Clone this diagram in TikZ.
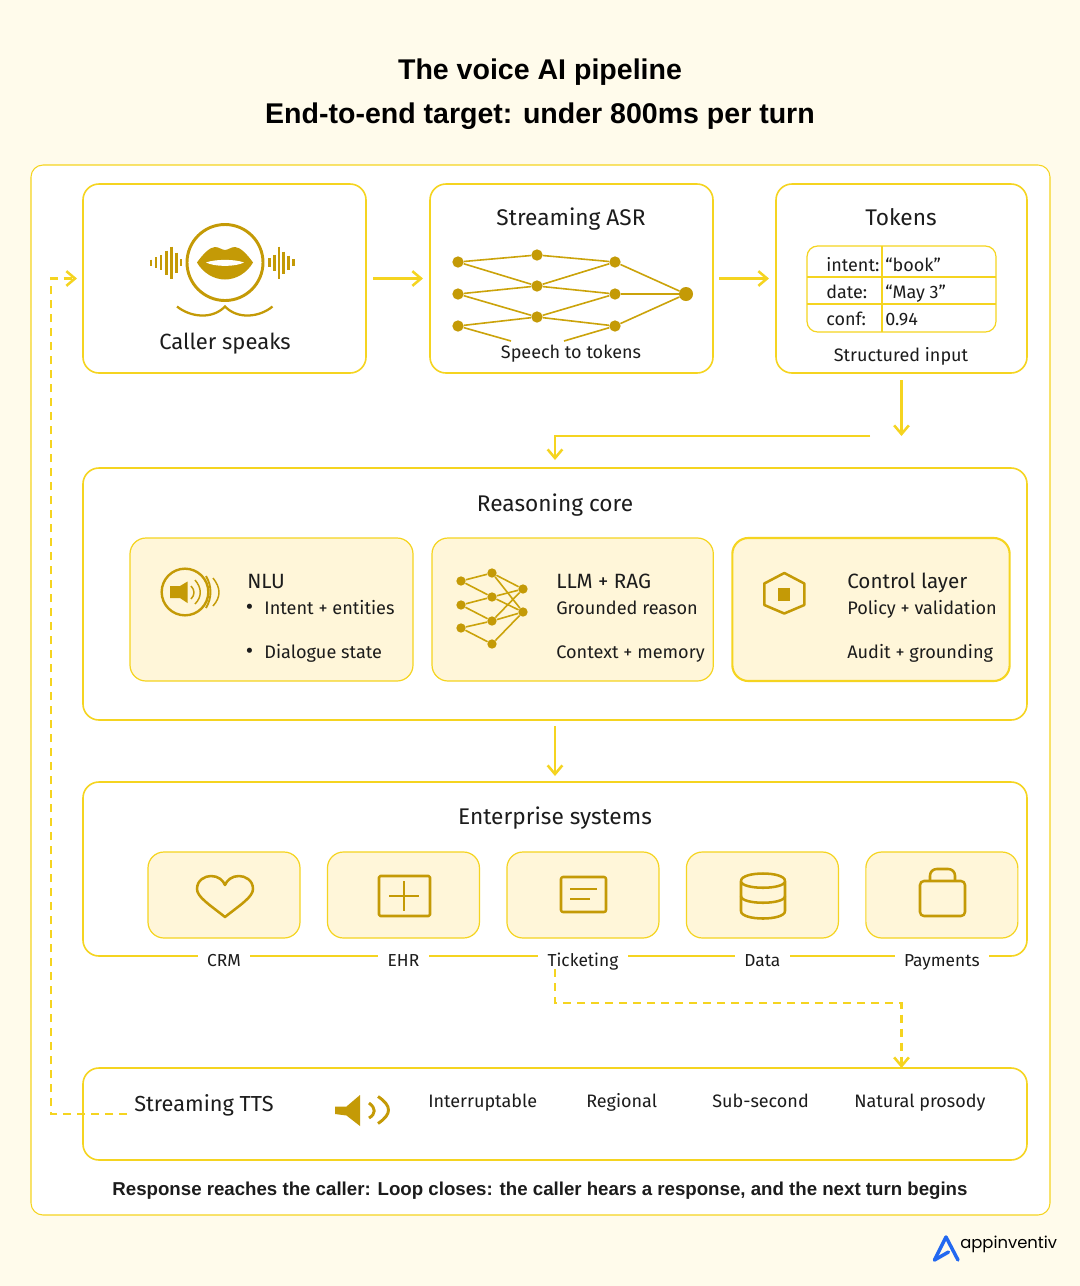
\documentclass[tikz,border=0pt]{standalone}
\usepackage{fontspec}
\usepackage{xcolor}
\usetikzlibrary{arrows.meta, positioning, calc}
\setmainfont{Fira Sans}
\newfontfamily\headfont{Liberation Sans}
\newfontfamily\logofont{Poppins}
\definecolor{mycream}{RGB}{255, 251, 235}
\definecolor{myyellow}{RGB}{245, 212, 32}
\definecolor{mygold}{RGB}{196, 154, 6}
\definecolor{mytile}{RGB}{255, 246, 217}
\definecolor{myink}{RGB}{28, 28, 28}
\definecolor{myblue}{RGB}{34, 104, 240}

\begin{document}
\begin{tikzpicture}[
    x=0.75pt, y=-0.75pt,
    box/.style={rectangle, rounded corners=12pt, draw=myyellow, line width=1.2pt, fill=white, outer sep=0pt},
    tile/.style={box, fill=mytile, line width=0.9pt},
    wide/.style={box, minimum width=708pt},
    card/.style={box, minimum width=212.25pt, minimum height=141.75pt},
    mini/.style={tile, minimum width=114pt, minimum height=64.5pt},
    panel/.style={tile, minimum height=107.25pt},
    head/.style={text=myink, font=\fontsize{17}{20}\selectfont, anchor=mid, yshift=-3pt},
    txt/.style={text=myink, font=\fontsize{13.6}{16}\selectfont, anchor=mid west, inner sep=0pt, yshift=-3pt},
    sub/.style={text=myink, font=\fontsize{13.5}{16}\selectfont, anchor=mid, inner sep=0pt, yshift=-3pt},
    arrow/.style={myyellow, line width=1.9pt, -{Straight Barb[length=6.5pt, width=11pt, line width=1.9pt]}},
    dasharrow/.style={arrow, line width=1.6pt, dash pattern=on 6pt off 4.5pt},
    dot/.style={circle, fill=mygold, draw=none, inner sep=0pt, minimum size=8.5pt},
    smalldot/.style={dot, minimum size=7pt},
    link/.style={draw=mygold!85!myyellow, line width=1.2pt},
    icon/.style={draw=mygold, line width=1.9pt, line join=round}
]
\useasboundingbox (0,0) rectangle (1080,1286);
\fill[mycream] (0,0) rectangle (1080,1286);

% Title
\node[font=\headfont\bfseries\fontsize{21.4}{25}\selectfont, text=black, anchor=mid, yshift=-4.5pt] (title) at (540,70) {The voice AI pipeline};
\node[font=\headfont\bfseries\fontsize{21.4}{25}\selectfont, text=black, anchor=mid, yshift=-4.5pt] (subtitle) at (540,114) {End-to-end target: under 800ms per turn};

% Outer frame
\node[box, line width=0.8pt, rounded corners=9pt, minimum width=764.25pt, minimum height=787.5pt] (frame) at (540.5,690) {};

% Top row
\node[card] (caller) at (224.5,278.5) {};
\node[card, right=48pt of caller] (asr) {};
\node[card, right=47.25pt of asr, minimum width=188.25pt] (tokens) {};

% Main rows
\node[wide, minimum height=189pt] (core) at (555,594) {};
\node[wide, minimum height=130.5pt, below=46.5pt of core] (ent) {};
\node[wide, minimum height=69pt, below=84pt of ent] (tts) {};

% Caller
\node[circle, draw=mygold, line width=2.2pt, minimum size=57pt, inner sep=0pt] (mouth) at (225,262.5) {};
\fill[mygold] (197,262.5) .. controls (203,254) and (210,247) .. (215,247) .. controls (219,247) and (222,250) .. (225,250) .. controls (228,250) and (231,247) .. (235,247) .. controls (240,247) and (247,254) .. (253,262.5) .. controls (247,273) and (236,279.5) .. (225,279.5) .. controls (214,279.5) and (203,273) .. (197,262.5) -- cycle;
\fill[white] (206,262.5) .. controls (215,259) and (235,259) .. (244,262.5) .. controls (235,267) and (215,267) .. (206,262.5) -- cycle;
\foreach \x/\h in {151/3, 156/5.5, 161/7.5, 166.5/12, 171.5/16, 176.5/10, 181/3.5, 269.5/4.5, 274.5/8, 279/16, 283.5/11, 288.5/7, 293.5/3.5}
    \draw[mygold, line width=1.6pt] (\x,262.5-\h) -- (\x,262.5+\h);
\draw[mygold, line width=1.7pt] (177,306.5) .. controls (190,317) and (212,320) .. (225,306.5) .. controls (238,320) and (260,317) .. (272.5,306.5);
\node[head, font=\fontsize{16.5}{20}\selectfont] (callertxt) at (225,342) {Caller speaks};

% Streaming ASR
\foreach \name/\x/\y in {la/458/262, lb/458/294, lc/458/326, ma/537/255, mb/537/286, mc/537/317, ra/615/262, rb/615/294, rc/615/326}
    \node[dot] (\name) at (\x,\y) {};
\node[dot, minimum size=10.5pt] (asrout) at (686,294) {};
\coordinate (freeleft) at (511,341);
\coordinate (freeright) at (564,341);
\foreach \a/\b in {la/ma, la/mb, lb/mb, lb/mc, lc/mc, lc/freeleft, ma/ra, mb/ra, mb/rb, mc/rb, mc/rc, rc/freeright, ra/asrout, rb/asrout, rc/asrout}
    \draw[link] (\a) -- (\b);
\node[head] (asrtxt) at (571,218) {Streaming ASR};
\node[sub] (asrsub) at (571,351) {Speech to tokens};

% Tokens
\node[head] (tokentxt) at (901,218) {Tokens};
\node[box, line width=0.9pt, rounded corners=8pt, minimum width=141.75pt, minimum height=64.5pt] (grid) at (901.5,289) {};
\coordinate (rowa) at (0,277);
\coordinate (rowb) at (0,304);
\coordinate (cola) at (882,0);
\draw[myyellow, line width=0.9pt] (grid.west |- rowa) -- (grid.east |- rowa);
\draw[myyellow, line width=0.9pt] (grid.west |- rowb) -- (grid.east |- rowb);
\draw[myyellow, line width=0.9pt] (cola |- grid.north) -- (cola |- grid.south);
\foreach \name/\y/\key/\val in {ka/264/intent:/{“book”}, kb/291/date:/{“May 3”}, kc/318/conf:/0.94} {
    \node[sub, anchor=mid west] (\name) at (826,\y) {\key};
    \node[sub, anchor=mid west] (\name v) at (885,\y) {\val};
}
\node[sub] (tokensub) at (901,354) {Structured input};

% Reasoning core
\node[head] (coretxt) at (555,504) {Reasoning core};
\node[panel, minimum width=212.25pt] (nlu) at (271.5,609.5) {};
\node[panel, minimum width=211pt, right=14.25pt of nlu] (llm) {};
\node[panel, minimum width=208pt, line width=1.6pt, right=14.25pt of llm] (ctrl) {};

\node[circle, draw=mygold, line width=1.8pt, minimum size=35pt, inner sep=0pt] (nluring) at (185,592) {};
\fill[mygold] (170,586) -- (180,586) -- (187.5,581.5) -- (187.5,603) -- (180,598) -- (170,598) -- cycle;
\draw[icon, line width=1.1pt] (191,586) .. controls (195,590) and (195,595) .. (191,599);
\draw[icon, line width=1.1pt] (195,580) .. controls (202,588) and (202,597) .. (195,604);
\draw[icon, line width=1.4pt] (206,576) .. controls (212,586) and (212,598) .. (206,608);
\draw[icon, line width=1.1pt] (213,578) .. controls (221,588) and (221,597) .. (213,606);
\node[txt, font=\fontsize{15.5}{18}\selectfont] (nlutxt) at (247,581) {NLU};
\node[txt] (nlua) at (245.5,607) {\makebox[14pt][l]{\fontsize{17}{17}\selectfont •}Intent + entities};
\node[txt] (nlub) at (245.5,651) {\makebox[14pt][l]{\fontsize{17}{17}\selectfont •}Dialogue state};

\foreach \name/\x/\y in {pa/461/581, pb/461/605, pc/461/628, qa/492/573, qb/492/597, qc/492/621, qd/492/644, sa/523/589, sb/523/612}
    \node[smalldot] (\name) at (\x,\y) {};
\foreach \a/\b in {pa/qa, pa/qb, pb/qb, pb/qc, pc/qc, pc/qd, qa/sa, qa/sb, qb/sa, qb/sb, qc/sa, qc/sb, qd/sb}
    \draw[link] (\a) -- (\b);
\node[txt, font=\fontsize{15.5}{18}\selectfont] (llmtxt) at (556,581) {LLM + RAG};
\node[txt] (llma) at (556,607) {Grounded reason};
\node[txt] (llmb) at (556,651) {Context + memory};

\draw[icon] (784.3,573) -- (804.3,583.5) -- (804.3,605) -- (784.3,613.5) -- (764.3,605) -- (764.3,583.5) -- cycle;
\fill[mygold] (777.7,588.3) rectangle (790.3,601);
\node[txt, font=\fontsize{15.5}{18}\selectfont] (ctrltxt) at (847,581) {Control layer};
\node[txt] (ctrla) at (847,607) {Policy + validation};
\node[txt] (ctrlb) at (847,651) {Audit + grounding};

% Enterprise systems
\node[head] (enttxt) at (555,817) {Enterprise systems};
\node[mini] (crm) at (224,895) {};
\foreach \name/\prev in {ehr/crm, tkt/ehr, dat/tkt, pay/dat}
    \node[mini, right=20.6pt of \prev] (\name) {};
\foreach \name/\label in {crm/CRM, ehr/EHR, tkt/Ticketing, dat/Data, pay/Payments}
    \node[sub, fill=white, inner xsep=7pt, inner ysep=2pt, font=\fontsize{13}{15}\selectfont] (\name txt) at (\name |- 0,959) {\label};

\draw[icon] (225,917) .. controls (210,905) and (197,897) .. (197,889) .. controls (197,880) and (205,876) .. (211,876) .. controls (218,876) and (223,880) .. (225,885) .. controls (227,880) and (232,876) .. (239,876) .. controls (245,876) and (253,880) .. (253,889) .. controls (253,897) and (240,905) .. (225,917) -- cycle;
\draw[icon, rounded corners=1pt] (379,876) rectangle (430,916);
\draw[icon, line width=1.3pt] (389,896) -- (419,896) (404,881) -- (404,911);
\draw[icon, rounded corners=1.5pt] (561,877) rectangle (606,912);
\draw[icon, line width=1.5pt] (570,889) -- (597,889) (570,899) -- (590,899);
\draw[icon] (741,881) .. controls (741,871) and (785,871) .. (785,881) .. controls (785,890) and (741,890) .. (741,881) -- (741,911) .. controls (741,921) and (785,921) .. (785,911) -- (785,881);
\draw[icon] (741,896) .. controls (741,905) and (785,905) .. (785,896);
\draw[icon, rounded corners=3pt] (920,881) rectangle (965,916);
\draw[icon, rounded corners=5pt] (930,881) -- (930,869) -- (955,869) -- (955,881);

% Streaming TTS
\node[txt, font=\fontsize{16.3}{19}\selectfont] (ttstxt) at (134,1104) {Streaming TTS};
\fill[mygold] (335,1106.5) -- (346.5,1106.5) -- (360,1095) -- (360,1126) -- (346.5,1115.5) -- (335,1114) -- cycle;
\draw[icon, line width=2.2pt] (369,1103) .. controls (376,1108) and (376,1114) .. (369,1118);
\draw[icon, line width=2.2pt] (378,1096.5) .. controls (392,1106) and (392,1114) .. (378,1123.5);
\foreach \name/\x/\label in {ttsa/428/Interruptable, ttsb/586/Regional, ttsc/712/Sub-second, ttsd/854/Natural prosody}
    \node[sub, anchor=mid west] (\name) at (\x,1100) {\label};

% Footer
\node[font=\headfont\bfseries\fontsize{14}{17}\selectfont, text=myink, anchor=mid, yshift=-3pt] (footer) at (540,1188) {Response reaches the caller: Loop closes: the caller hears a response, and the next turn begins};

% Arrows
\draw[arrow, shorten <=5.25pt, shorten >=5.25pt] (caller) -- (asr);
\draw[arrow, shorten <=4.5pt, shorten >=5.25pt] (asr) -- (tokens);
\coordinate (tokdown) at (901.5,436);
\draw[arrow, shorten <=5.25pt] (tokens) -- (tokdown);
\coordinate (elbow) at (870,436);
\draw[arrow, shorten >=6pt] (elbow) -| (core.north);
\draw[arrow, shorten <=4.5pt, shorten >=4.5pt] (core) -- (ent);

% Dashed links
\coordinate (tktout) at (555,969);
\coordinate (tktturn) at (901.5,1003);
\draw[dasharrow] (tktout) |- (tktturn) -- (tts.north -| tktturn);
\coordinate (ttsout) at (127,1114);
\coordinate (loopturn) at (51,1114);
\draw[dasharrow, shorten >=4.5pt] (ttsout) -- (loopturn) |- (caller.west);

% Logo
\coordinate (logotop) at (946,1237);
\draw[myblue, line width=2.6pt, line cap=round, line join=round] (934.5,1260) -- (logotop) -- (958,1260);
\draw[myblue, line width=2.6pt, line cap=round] (934.5,1260) -- (948.5,1252);
\node[font=\logofont\fontsize{12.3}{15}\selectfont, text=black, anchor=mid west, inner sep=0pt, yshift=-1pt] (logo) at (960,1244) {appinventiv};
\end{tikzpicture}
\end{document}
